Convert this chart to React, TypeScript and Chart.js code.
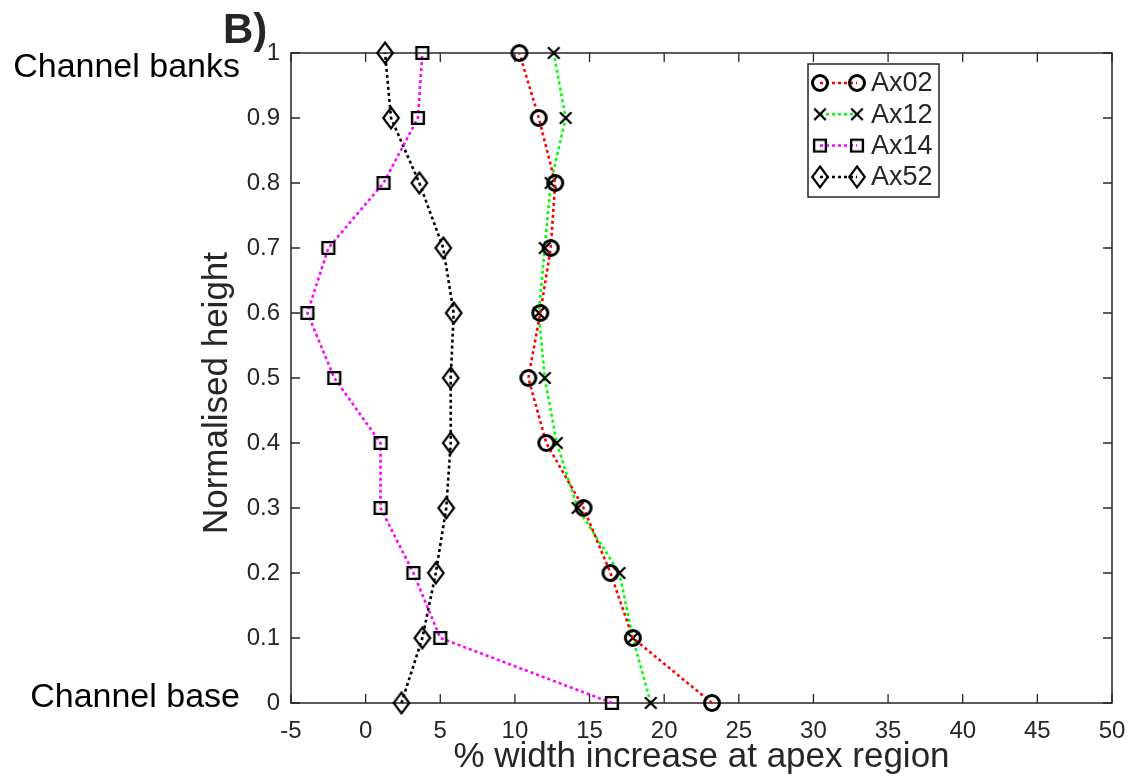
import React, { useEffect, useRef } from 'react';
import { Chart, registerables } from 'chart.js';

Chart.register(...registerables);

// ---- data ----
const heights = [0, 0.1, 0.2, 0.3, 0.4, 0.5, 0.6, 0.7, 0.8, 0.9, 1];
const ax02 = [23.2, 17.9, 16.4, 14.6, 12.1, 10.9, 11.7, 12.4, 12.7, 11.6, 10.3];
const ax12 = [19.1, 17.9, 17.0, 14.2, 12.8, 12.0, 11.6, 12.0, 12.4, 13.4, 12.6];
const ax14 = [16.5, 5.0, 3.2, 1.0, 1.0, -2.1, -3.9, -2.5, 1.2, 3.5, 3.8];
const ax52 = [2.4, 3.8, 4.7, 5.4, 5.7, 5.7, 5.9, 5.2, 3.6, 1.7, 1.3];
const seriesNames = ['Ax02', 'Ax12', 'Ax14', 'Ax52'];
const seriesValues = [ax02, ax12, ax14, ax52];
const xTickValues = [-5, 0, 5, 10, 15, 20, 25, 30, 35, 40, 45, 50];
const yTickValues = [0, 0.1, 0.2, 0.3, 0.4, 0.5, 0.6, 0.7, 0.8, 0.9, 1];
const xTitle = '% width increase at apex region';
const yTitle = 'Normalised height';
const panelLabel = 'B)';
const topNote = 'Channel banks';
const bottomNote = 'Channel base';

// ---- styles ----
const FONT = '"Liberation Sans", Arial, "DejaVu Sans", sans-serif';
const AXIS_COLOR = '#262626';
const lineColors = ['#ff0000', '#00ff00', '#ff00ff', '#000000'];
const markerKinds = ['circle', 'cross', 'square', 'diamond'];

function makeMarker(kind: string): HTMLCanvasElement {
  const c = document.createElement('canvas');
  let w = 22, h = 22;
  if (kind === 'diamond') { w = 20; h = 26; }
  if (kind === 'cross') { w = 16; h = 16; }
  if (kind === 'square') { w = 18; h = 18; }
  c.width = w; c.height = h;
  const g = c.getContext('2d')!;
  g.strokeStyle = '#000';
  g.translate(w / 2, h / 2);
  g.beginPath();
  if (kind === 'circle') {
    g.lineWidth = 3;
    g.arc(0, 0, 7.5, 0, Math.PI * 2);
  } else if (kind === 'cross') {
    g.lineWidth = 2.3;
    g.moveTo(-5.8, -5.8); g.lineTo(5.8, 5.8);
    g.moveTo(5.8, -5.8); g.lineTo(-5.8, 5.8);
  } else if (kind === 'square') {
    g.lineWidth = 2.4;
    g.rect(-5.9, -5.9, 11.8, 11.8);
  } else {
    g.lineWidth = 2.2;
    g.moveTo(0, -10.5); g.lineTo(7.8, 0); g.lineTo(0, 10.5); g.lineTo(-7.8, 0); g.closePath();
  }
  g.stroke();
  return c;
}

export default function App() {
  const ref = useRef<HTMLCanvasElement | null>(null);

  useEffect(() => {
    const canvas = ref.current;
    if (!canvas) return;
    const markers = markerKinds.map(makeMarker);

    const decor = {
      id: 'decor',
      beforeDatasetsDraw(chart: any) {
        const { ctx, chartArea } = chart;
        const { left, right, top, bottom } = chartArea;
        const xs = chart.scales.x;
        const ys = chart.scales.y;
        ctx.save();
        ctx.strokeStyle = AXIS_COLOR;
        ctx.lineWidth = 1.5;
        ctx.strokeRect(left, top, right - left, bottom - top);
        ctx.lineWidth = 1.3;
        ctx.beginPath();
        xs.ticks.forEach((t: any) => {
          const px = xs.getPixelForValue(t.value);
          ctx.moveTo(px, bottom); ctx.lineTo(px, bottom - 9);
          ctx.moveTo(px, top); ctx.lineTo(px, top + 9);
        });
        ys.ticks.forEach((t: any) => {
          const py = ys.getPixelForValue(t.value);
          ctx.moveTo(left, py); ctx.lineTo(left + 9, py);
          ctx.moveTo(right, py); ctx.lineTo(right - 9, py);
        });
        ctx.stroke();
        ctx.restore();
      },
      afterDraw(chart: any) {
        const { ctx, chartArea } = chart;
        ctx.save();
        // texts
        ctx.fillStyle = AXIS_COLOR;
        ctx.font = `bold 42px ${FONT}`;
        ctx.textAlign = 'left';
        ctx.textBaseline = 'alphabetic';
        ctx.fillText(panelLabel, 223, 43);

        ctx.fillStyle = '#000';
        ctx.font = `34px ${FONT}`;
        ctx.textAlign = 'right';
        ctx.fillText(topNote, 240, 77);
        ctx.fillText(bottomNote, 240, 707);

        ctx.fillStyle = AXIS_COLOR;
        ctx.font = `35px ${FONT}`;
        ctx.textAlign = 'center';
        ctx.fillText(xTitle, (chartArea.left + chartArea.right) / 2, 767);

        ctx.save();
        ctx.translate(227, 393);
        ctx.rotate(-Math.PI / 2);
        ctx.fillText(yTitle, 0, 0);
        ctx.restore();

        // legend
        const bx = 808, by = 64, bw = 131, bh = 133;
        ctx.fillStyle = '#fff';
        ctx.fillRect(bx, by, bw, bh);
        ctx.strokeStyle = AXIS_COLOR;
        ctx.lineWidth = 1.5;
        ctx.strokeRect(bx, by, bw, bh);
        seriesNames.forEach((name, i) => {
          const y = 83 + i * 31.3;
          ctx.save();
          ctx.strokeStyle = lineColors[i];
          ctx.lineWidth = 2.5;
          ctx.setLineDash([3, 3]);
          ctx.beginPath();
          ctx.moveTo(820, y); ctx.lineTo(857, y);
          ctx.stroke();
          ctx.restore();
          const m = markers[i];
          ctx.drawImage(m, 820 - m.width / 2, y - m.height / 2);
          ctx.drawImage(m, 857 - m.width / 2, y - m.height / 2);
          ctx.fillStyle = AXIS_COLOR;
          ctx.font = `27px ${FONT}`;
          ctx.textAlign = 'left';
          ctx.textBaseline = 'middle';
          ctx.fillText(name, 871, y + 1);
        });
        ctx.restore();
      },
    };

    const datasets = seriesNames.map((name, i) => ({
      label: name,
      data: heights.map((h, k) => ({ x: seriesValues[i][k], y: h })),
      showLine: true,
      borderColor: lineColors[i],
      borderWidth: 2.6,
      borderDash: [3, 3],
      tension: 0,
      fill: false,
      pointStyle: markers[i],
      pointRadius: 8,
      pointHoverRadius: 8,
      clip: false as any,
    }));

    const tickFont = { family: FONT, size: 24 };

    const chart = new Chart(canvas, {
      type: 'scatter',
      data: { datasets },
      plugins: [decor],
      options: {
        animation: false,
        responsive: false,
        events: [],
        layout: { padding: { left: 0, top: 53, right: 17, bottom: 0 } },
        plugins: { legend: { display: false }, tooltip: { enabled: false } },
        scales: {
          x: {
            type: 'linear',
            min: -5,
            max: 50,
            afterBuildTicks: (s: any) => { s.ticks = xTickValues.map((v) => ({ value: v })); },
            afterFit: (s: any) => { s.height = 73; s.paddingLeft = 0; s.paddingRight = 0; },
            ticks: { font: tickFont, color: AXIS_COLOR, padding: 14, maxRotation: 0, autoSkip: false, callback: (v: any) => String(v) },
            grid: { display: false, drawTicks: false },
            border: { display: false },
          },
          y: {
            type: 'linear',
            min: 0,
            max: 1,
            afterBuildTicks: (s: any) => { s.ticks = yTickValues.map((v) => ({ value: v })); },
            afterFit: (s: any) => { s.width = 291; s.paddingTop = 0; s.paddingBottom = 0; },
            ticks: { font: tickFont, color: AXIS_COLOR, padding: 11, autoSkip: false, callback: (v: any) => String(v) },
            grid: { display: false, drawTicks: false },
            border: { display: false },
          },
        },
      } as any,
    });
    return () => chart.destroy();
  }, []);

  return (
    <div style={{ position: 'absolute', left: 0, top: 0, width: 1129, height: 776, background: '#fff' }}>
      <canvas ref={ref} width={1129} height={776} style={{ width: 1129, height: 776, display: 'block' }} />
    </div>
  );
}
